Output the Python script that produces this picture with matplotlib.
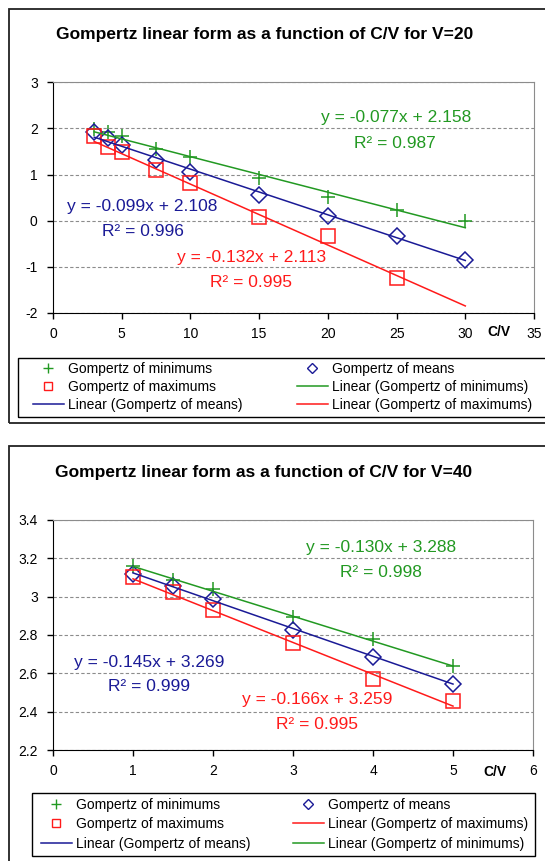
import numpy as np
import matplotlib
matplotlib.use('Agg')
import matplotlib.pyplot as plt
from matplotlib.lines import Line2D
from matplotlib.patches import Rectangle

plt.rcParams['font.family'] = ['Liberation Sans', 'DejaVu Sans']

green = '#229922'
blue = '#1a1a96'
red = '#ff1a1a'

# V=20 data
cv20 = [3, 4, 5, 7.5, 10, 15, 20, 25, 30]
min20 = [1.98, 1.93, 1.83, 1.56, 1.39, 0.92, 0.51, 0.24, 0.0]
mean20 = [1.92, 1.79, 1.64, 1.31, 1.05, 0.55, 0.10, -0.33, -0.86]
cv20_max = [3, 4, 5, 7.5, 10, 15, 20, 25]
max20 = [1.83, 1.59, 1.48, 1.11, 0.81, 0.07, -0.34, -1.24]
trend_x20 = [3, 30]
fit20 = {'min': (-0.077, 2.158, 0.987), 'mean': (-0.099, 2.108, 0.996), 'max': (-0.132, 2.113, 0.995)}

# V=40 data
cv40 = [1, 1.5, 2, 3, 4, 5]
min40 = [3.16, 3.087, 3.04, 2.895, 2.777, 2.64]
mean40 = [3.12, 3.058, 2.988, 2.825, 2.686, 2.546]
max40 = [3.10, 3.026, 2.93, 2.76, 2.572, 2.455]
trend_x40 = [1, 5]
fit40 = {'min': (-0.130, 3.288, 0.998), 'mean': (-0.145, 3.269, 0.999), 'max': (-0.166, 3.259, 0.995)}

W, H = 545, 861
fig = plt.figure(figsize=(W / 100, H / 100), dpi=100)


def box(x0, y0, x1, y1, lw, ec='#222222'):
    # rectangle given in pixels from top-left
    fig.patches.append(Rectangle((x0 / W, 1 - y1 / H), (x1 - x0) / W, (y1 - y0) / H,
                                 transform=fig.transFigure, fill=False, ec=ec, lw=lw, clip_on=False))


# outer chart frames
box(9, 8.7, 560, 423, 1.3)
box(9, 446, 560, 900, 1.3)


def eq(fit):
    return 'y = %.3fx + %.3f' % (fit[0], fit[1])


def draw(ax, x_min, y_min, x_mean, y_mean, x_max, y_max, tx, fits, xlim, ylim, xticks, yticks, ylabfmt):
    ax.plot(x_min, y_min, '+', color=green, ms=10, mew=1.1, ls='none')
    ax.plot(x_mean, y_mean, 'D', mfc='none', mec=blue, ms=8, mew=1.1, ls='none')
    ax.plot(x_max, y_max, 's', mfc='none', mec=red, ms=10, mew=1.1, ls='none')
    tx = np.array(tx, dtype=float)
    for key, c in (('min', green), ('mean', blue), ('max', red)):
        ax.plot(tx, fits[key][0] * tx + fits[key][1], color=c, lw=1.1)
    ax.set_xlim(*xlim)
    ax.set_ylim(*ylim)
    ax.set_xticks(xticks)
    ax.set_yticks(yticks)
    ax.set_yticklabels([ylabfmt(v) for v in yticks])
    ax.grid(axis='y', color='#8c8c8c', ls=(0, (3, 2)), lw=0.8)
    ax.set_axisbelow(True)
    for s in ('top', 'right'):
        ax.spines[s].set_color('#8c8c8c')
    for s in ('left', 'bottom'):
        ax.spines[s].set_color('black')
    ax.tick_params(direction='out', length=4, width=1, labelsize=10, pad=6)
    ax.tick_params(axis='y', pad=7)


ax1 = fig.add_axes([53 / W, 548 / H, 481 / W, 230.7 / H])
draw(ax1, cv20, min20, cv20, mean20, cv20_max, max20, trend_x20, fit20,
     (0, 35), (-2, 3), range(0, 36, 5), range(-2, 4), lambda v: '%d' % v)
ax1.text(0.927, -0.083, 'C/V', transform=ax1.transAxes, ha='center', va='center', weight='bold', fontsize=10)
fs = 12.5
ax1.text(25, 2.24, eq(fit20['min']), color=green, ha='center', va='center', fontsize=fs)
ax1.text(24.9, 1.68, 'R² = %.3f' % fit20['min'][2], color=green, ha='center', va='center', fontsize=fs)
ax1.text(6.5, 0.30, eq(fit20['mean']), color=blue, ha='center', va='center', fontsize=fs)
ax1.text(6.57, -0.24, 'R² = %.3f' % fit20['mean'][2], color=blue, ha='center', va='center', fontsize=fs)
ax1.text(14.45, -0.79, eq(fit20['max']), color=red, ha='center', va='center', fontsize=fs)
ax1.text(14.4, -1.34, 'R² = %.3f' % fit20['max'][2], color=red, ha='center', va='center', fontsize=fs)

ax2 = fig.add_axes([53 / W, 111 / H, 480 / W, 230 / H])
draw(ax2, cv40, min40, cv40, mean40, cv40, max40, trend_x40, fit40,
     (0, 6), (2.2, 3.4), range(0, 7), np.round(np.arange(2.2, 3.41, 0.2), 1), lambda v: '%g' % v)
ax2.text(0.921, -0.096, 'C/V', transform=ax2.transAxes, ha='center', va='center', weight='bold', fontsize=10)
ax2.text(4.10, 3.258, eq(fit40['min']), color=green, ha='center', va='center', fontsize=fs)
ax2.text(4.10, 3.127, 'R² = %.3f' % fit40['min'][2], color=green, ha='center', va='center', fontsize=fs)
ax2.text(1.20, 2.656, eq(fit40['mean']), color=blue, ha='center', va='center', fontsize=fs)
ax2.text(1.20, 2.529, 'R² = %.3f' % fit40['mean'][2], color=blue, ha='center', va='center', fontsize=fs)
ax2.text(3.30, 2.462, eq(fit40['max']), color=red, ha='center', va='center', fontsize=fs)
ax2.text(3.30, 2.333, 'R² = %.3f' % fit40['max'][2], color=red, ha='center', va='center', fontsize=fs)

fig.text(265 / W, 1 - 34 / H, 'Gompertz linear form as a function of C/V for V=20',
         ha='center', va='center', weight='bold', fontsize=12.5)
fig.text(264 / W, 1 - 472 / H, 'Gompertz linear form as a function of C/V for V=40',
         ha='center', va='center', weight='bold', fontsize=12.5)

h_min = Line2D([], [], marker='+', color=green, ls='none', ms=7, mew=1)
h_mean = Line2D([], [], marker='D', mfc='none', mec=blue, ls='none', ms=5.5, mew=1)
h_max = Line2D([], [], marker='s', mfc='none', mec=red, ls='none', ms=6, mew=1)
l_min = Line2D([], [], color=green, lw=1.1)
l_mean = Line2D([], [], color=blue, lw=1.1)
l_max = Line2D([], [], color=red, lw=1.1)

lab_min = 'Gompertz of minimums'
lab_mean = 'Gompertz of means'
lab_max = 'Gompertz of maximums'
lab_lmin = 'Linear (Gompertz of minimums)'
lab_lmean = 'Linear (Gompertz of means)'
lab_lmax = 'Linear (Gompertz of maximums)'


def column(handles, labels, x, y, spacing):
    fig.legend(handles, labels, loc='upper left', bbox_to_anchor=(x / W, 1 - y / H),
               frameon=False, fontsize=10, borderaxespad=0, borderpad=0,
               handlelength=2.2, handletextpad=0.3, labelspacing=spacing)


# legend of the V=20 chart
box(18, 358, 548, 417, 1.0, ec='black')
column([h_min, h_max, l_mean], [lab_min, lab_max, lab_lmean], 33, 361.5, 0.3)
column([h_mean, l_min, l_max], [lab_mean, lab_lmin, lab_lmax], 297, 361.5, 0.3)

# legend of the V=40 chart
box(32, 793, 535, 856, 1.0, ec='black')
column([h_min, h_max, l_mean], [lab_min, lab_max, lab_lmean], 41, 798, 0.38)
column([h_mean, l_max, l_min], [lab_mean, lab_lmax, lab_lmin], 293, 798, 0.38)

plt.savefig('out.png', dpi=100)
